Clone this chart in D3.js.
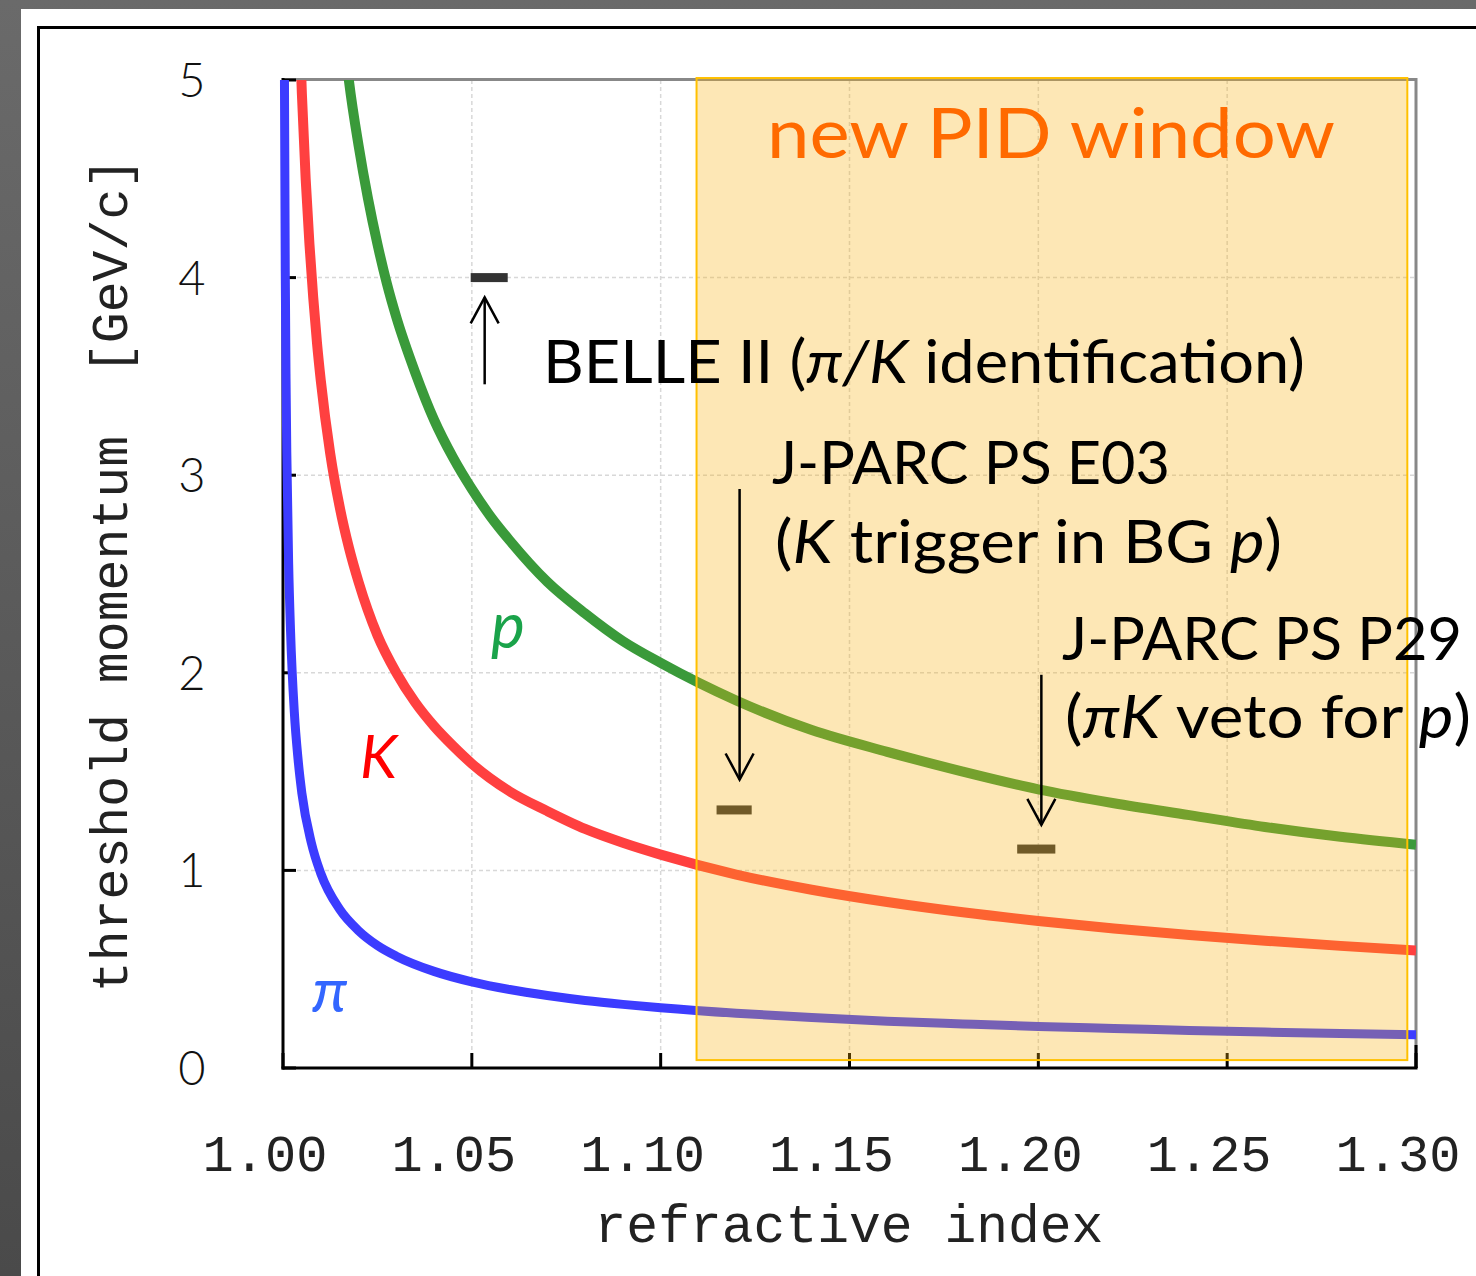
<!DOCTYPE html>
<html><head><meta charset="utf-8">
<script src="https://cdn.jsdelivr.net/npm/d3@7"></script>
<style>
html,body{margin:0;padding:0;background:#fff;}
svg{display:block;}
</style></head>
<body>
<svg id="chart" width="1476" height="1276"></svg>
<script>
// ---- data ----
const pionN = [1.00038,1.0004,1.0006,1.0008,1.001,1.0015,1.002,1.003,1.004,1.005,1.0075,1.01,1.015,1.02,1.025,1.03,1.04,1.05,1.06,1.07,1.08,1.09,1.10,1.12,1.14,1.16,1.18,1.20,1.22,1.24,1.26,1.28,1.30];
const pionP = [5.06,4.94,4.03,3.49,3.12,2.55,2.21,1.80,1.56,1.39,1.14,0.985,0.803,0.695,0.620,0.566,0.489,0.436,0.397,0.367,0.342,0.322,0.305,0.277,0.255,0.237,0.223,0.210,0.200,0.190,0.182,0.175,0.168];
const kaonN = [1.0045,1.005,1.006,1.007,1.008,1.009,1.01,1.0125,1.015,1.0175,1.02,1.025,1.03,1.035,1.04,1.045,1.05,1.06,1.07,1.08,1.09,1.10,1.12,1.14,1.16,1.18,1.20,1.22,1.24,1.26,1.28,1.30];
const kaonP = [5.20,4.93,4.50,4.17,3.90,3.67,3.48,3.11,2.84,2.63,2.46,2.19,2.00,1.85,1.73,1.63,1.54,1.40,1.30,1.21,1.14,1.08,0.979,0.902,0.840,0.788,0.744,0.706,0.673,0.644,0.618,0.594];
const protonN = [1.017,1.0175,1.02,1.0225,1.025,1.0275,1.03,1.035,1.04,1.045,1.05,1.055,1.06,1.07,1.08,1.09,1.10,1.12,1.14,1.16,1.18,1.20,1.22,1.24,1.26,1.28,1.30];
const protonP = [5.07,4.99,4.67,4.40,4.17,3.97,3.80,3.52,3.28,3.09,2.93,2.79,2.67,2.46,2.30,2.16,2.05,1.86,1.71,1.60,1.50,1.41,1.34,1.28,1.22,1.17,1.13];

const xTicks = [1.00,1.05,1.10,1.15,1.20,1.25,1.30];
const xTickLabels = ["1.00","1.05","1.10","1.15","1.20","1.25","1.30"];
const yTicks = [0,1,2,3,4,5];
const yTickLabels = ["0","1","2","3","4","5"];

const windowN = [1.1095, 1.2977];
const windowP = [0.04, 5.01];

// experiment markers: [n1, n2, p]
const markerN1 = [1.0497, 1.1148, 1.1944];
const markerN2 = [1.0595, 1.1241, 1.2045];
const markerP  = [4.0, 1.306, 1.108];
// arrows: n, from p, to p
const arrowN = [1.0534, 1.1209, 1.2008];
const arrowFrom = [3.46, 2.93, 1.99];
const arrowTo = [3.90, 1.46, 1.23];

// ---- drawing ----
const svg = d3.select("#chart");
const L = 283, R = 1416, T = 80, B = 1068;
const x = d3.scaleLinear().domain([1.0, 1.3]).range([L, R]);
const y = d3.scaleLinear().domain([0, 5]).range([B, T]);

// screenshot-like background frame
const defs = svg.append("defs");
const g1 = defs.append("linearGradient").attr("id","bgL").attr("x1",0).attr("y1",0).attr("x2",0).attr("y2",1);
g1.append("stop").attr("offset","0%").attr("stop-color","#6a6a6a");
g1.append("stop").attr("offset","100%").attr("stop-color","#4a4a4a");
svg.append("rect").attr("x",0).attr("y",0).attr("width",1476).attr("height",1276).attr("fill","url(#bgL)");
svg.append("rect").attr("x",21).attr("y",9).attr("width",1476).attr("height",1276).attr("fill","#fff");
svg.append("rect").attr("x",38.5).attr("y",27.5).attr("width",1500).attr("height",1300)
  .attr("fill","none").attr("stroke","#000").attr("stroke-width",3);

defs.append("clipPath").attr("id","plotClip").append("rect")
  .attr("x", L-6).attr("y", T).attr("width", R-L+6).attr("height", B-T);

// grid
const grid = svg.append("g");
grid.selectAll(".gx").data(xTicks.slice(1,-1)).enter().append("line")
  .attr("x1", d=>x(d)).attr("x2", d=>x(d)).attr("y1", T).attr("y2", B)
  .attr("stroke","#d8d8d8").attr("stroke-width",1.5).attr("stroke-dasharray","4,3");
grid.selectAll(".gy").data(yTicks.slice(1,-1)).enter().append("line")
  .attr("x1", L).attr("x2", R).attr("y1", d=>y(d)).attr("y2", d=>y(d))
  .attr("stroke","#d8d8d8").attr("stroke-width",1.5).attr("stroke-dasharray","4,3");

// frame top/right (gray) and axes (black)
svg.append("line").attr("x1",L).attr("x2",R+1).attr("y1",T-0.5).attr("y2",T-0.5).attr("stroke","#888").attr("stroke-width",3);
svg.append("line").attr("x1",R).attr("x2",R).attr("y1",T-2).attr("y2",B).attr("stroke","#888").attr("stroke-width",3);
svg.append("line").attr("x1",L).attr("x2",L).attr("y1",T-2).attr("y2",B+1.5).attr("stroke","#000").attr("stroke-width",3);
svg.append("line").attr("x1",L-1.5).attr("x2",R+1.5).attr("y1",B).attr("y2",B).attr("stroke","#000").attr("stroke-width",3);
svg.append("line").attr("x1",R).attr("x2",R).attr("y1",1045).attr("y2",B).attr("stroke","#000").attr("stroke-width",3);

// ticks
svg.selectAll(".ty").data(yTicks).enter().append("line")
  .attr("x1",L).attr("x2",L+13).attr("y1",d=>y(d)).attr("y2",d=>y(d))
  .attr("stroke","#000").attr("stroke-width",3);
svg.selectAll(".tx").data(xTicks).enter().append("line")
  .attr("x1",d=>x(d)).attr("x2",d=>x(d)).attr("y1",B).attr("y2",B-15)
  .attr("stroke","#000").attr("stroke-width",3);

// tick labels
svg.selectAll(".ly").data(yTicks).enter().append("text")
  .attr("x",192).attr("y",d=>y(d)+17).attr("text-anchor","middle")
  .attr("font-family","Lato, 'DejaVu Sans', sans-serif").attr("font-weight",300)
  .attr("font-size",47).attr("fill","#111").text((d,i)=>yTickLabels[i]);
svg.selectAll(".lx").data(xTicks).enter().append("text")
  .attr("x",d=>x(d)-18).attr("y",1171).attr("text-anchor","middle")
  .attr("font-family","'Liberation Mono', 'DejaVu Sans Mono', monospace")
  .attr("font-size",52).attr("fill","#222").text((d,i)=>xTickLabels[i]);

// axis titles
svg.append("text").attr("transform","translate(127,575) rotate(-90)").attr("text-anchor","middle")
  .attr("font-family","'Liberation Mono', monospace").attr("font-size",51.5).attr("fill","#222")
  .attr("xml:space","preserve").text("threshold momentum  [GeV/c]");
svg.append("text").attr("x",849).attr("y",1242).attr("text-anchor","middle")
  .attr("font-family","'Liberation Mono', monospace").attr("font-size",53).attr("fill","#222")
  .text("refractive index");

// curves
const line = d3.line().x(d=>x(d[0])).y(d=>y(d[1])).curve(d3.curveMonotoneX);
const curves = [
  {n: pionN, p: pionP, color: "#3c3cff", w: 9},
  {n: kaonN, p: kaonP, color: "#ff4040", w: 10},
  {n: protonN, p: protonP, color: "#3a9a3a", w: 10}
];
const cg = svg.append("g").attr("clip-path","url(#plotClip)");
curves.forEach(c=>{
  cg.append("path").datum(c.n.map((v,i)=>[v,c.p[i]]))
    .attr("d", line).attr("fill","none").attr("stroke",c.color)
    .attr("stroke-width",c.w).attr("stroke-linejoin","round");
});

// markers (bars)
svg.selectAll(".mk").data(markerP).enter().append("rect")
  .attr("x",(d,i)=>x(markerN1[i])).attr("width",(d,i)=>x(markerN2[i])-x(markerN1[i]))
  .attr("y",d=>y(d)-4.5).attr("height",9).attr("fill","#333");

// new PID window overlay
svg.append("rect").attr("x",x(windowN[0])).attr("y",y(windowP[1]))
  .attr("width",x(windowN[1])-x(windowN[0])).attr("height",y(windowP[0])-y(windowP[1]))
  .attr("fill","rgb(248,177,15)").attr("fill-opacity",0.31)
  .attr("stroke","#ffc000").attr("stroke-width",2);

// arrows
const ag = svg.append("g").attr("stroke","#000").attr("stroke-width",2.5).attr("fill","none");
arrowN.forEach((n,i)=>{
  const xa = x(n), y0 = y(arrowFrom[i]), y1 = y(arrowTo[i]);
  const dir = y1 < y0 ? 1 : -1;
  ag.append("line").attr("x1",xa).attr("x2",xa).attr("y1",y0).attr("y2",y1);
  ag.append("path").attr("d",`M${xa-14},${y1+dir*26}L${xa},${y1}L${xa+14},${y1+dir*26}`);
});

// annotation texts
const annFont = "Lato, 'Open Sans', sans-serif";
function ann(xp, yp, parts, size, len, color){
  const t = svg.append("text").attr("x",xp).attr("y",yp).attr("font-family",annFont)
    .attr("font-size",size).attr("fill",color||"#000").attr("xml:space","preserve");
  if(len) t.attr("textLength",len).attr("lengthAdjust","spacingAndGlyphs");
  parts.forEach(p=>{
    t.append("tspan").attr("font-style",p[1]?"italic":"normal").text(p[0]);
  });
  return t;
}
ann(767,158,[["new PID window",0]],70,568,"#ff6a00");
ann(543,383,[["BELLE II (",0],["π/K",1],[" identification)",0]],60,762);
ann(772,484,[["J-PARC PS E03",0]],60,398);
ann(775,563,[["(",0],["K",1],[" trigger in BG ",0],["p",1],[")",0]],60,507);
ann(1062,660,[["J-PARC PS P29",0]],60,400);
ann(1065,738,[["(",0],["πK",1],[" veto for ",0],["p",1],[")",0]],60,406);

// particle labels
svg.append("text").attr("x",491).attr("y",648).attr("font-family",annFont).attr("font-style","italic")
  .attr("font-size",64).attr("fill","#1aa34a").text("p");
svg.append("text").attr("x",360).attr("y",778).attr("font-family",annFont).attr("font-style","italic")
  .attr("font-size",60).attr("fill","#ff0000").text("K");
svg.append("text").attr("x",312).attr("y",1012).attr("font-family",annFont).attr("font-style","italic")
  .attr("font-size",62).attr("fill","#3366ff").text("π");
</script>
</body></html>
